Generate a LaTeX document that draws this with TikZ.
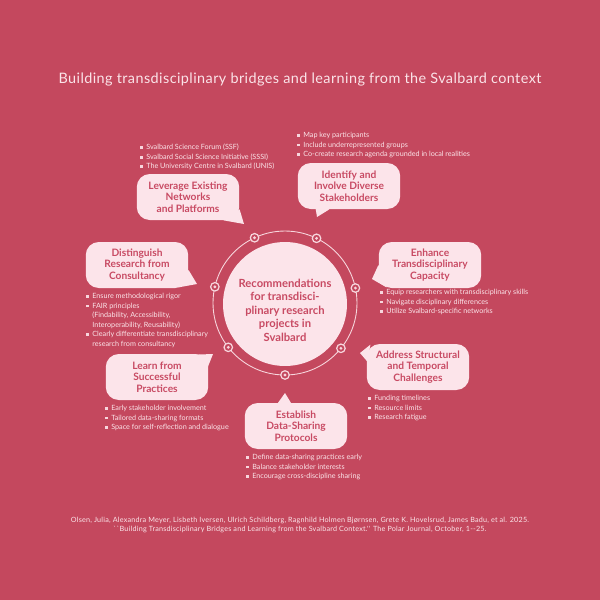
\documentclass[tikz,border=0pt]{standalone}
\usepackage{fontspec}
\setmainfont{Lato}
\newfontfamily\titlefont[LetterSpace=3]{Lato}
\usetikzlibrary{calc}
\definecolor{bg}{HTML}{C4485E}
\definecolor{bubblefill}{HTML}{FCE4EA}
\definecolor{bubbletext}{HTML}{C84A63}
\definecolor{itemtext}{HTML}{FBE4E9}
\definecolor{ringpink}{HTML}{F7D6DD}
\newcommand{\bu}{\textcolor{ringpink}{\rule[0.2ex]{0.75ex}{0.75ex}}\hspace{0.9ex}}
\newcommand{\bi}{\hphantom{\bu}}

\begin{document}
\begin{tikzpicture}[x=0.02cm,y=-0.02cm,
  bubble/.style={fill=bubblefill,rounded corners=0.26cm,minimum width=2.05cm,minimum height=0.92cm,
    align=center,text=bubbletext,inner sep=0,font=\fontsize{5.8}{6.6}\selectfont\bfseries},
  items/.style={anchor=north west,align=left,text=itemtext,inner sep=0,font=\fontsize{4.1}{5.4}\selectfont},
  ringdot/.style={circle,draw=ringpink,line width=0.7pt,fill=bg,minimum size=0.17cm,inner sep=0}]
  \fill[bg] (0,0) rectangle (600,600);
  \node[text=itemtext,font=\titlefont\fontsize{8.2}{9}\selectfont] (title) at (300,80)
    {Building transdisciplinary bridges and learning from the Svalbard context};

  \node[circle,draw=ringpink,line width=0.5pt,minimum size=2.88cm,outer sep=0] (ring) at (285,303) {};
  \node[circle,fill=bubblefill,minimum size=2.48cm] (hub) at (285,304) {};
  \node[align=center,text=bubbletext,font=\fontsize{6.4}{7.7}\selectfont\bfseries] (hubtext) at (285,310)
    {Recommendations\\for transdisci-\\plinary research\\projects in\\Svalbard};
  \foreach \a [count=\i] in {270,321.43,12.86,64.29,115.71,167.14,218.57}{
    \node[ringdot] (d\i) at (ring.\a) {};
    \fill[ringpink] (d\i) circle[radius=1.6];
  }

  \node[bubble] (lev) at (188,197) {Leverage Existing\\Networks\\and Platforms};
  \fill[bubblefill] ($(lev.south east)+(-16,0)$) -- (244,224) -- ($(lev.south east)+(0,-11)$) -- cycle;
  \node[items] (levlist) at (140,144) {\bu Svalbard Science Forum (SSF)\\ \bu Svalbard Social Science Initiative (SSSI)\\ \bu The University Centre in Svalbard (UNIS)};

  \node[bubble] (idf) at (349,186) {Identify and\\Involve Diverse\\Stakeholders};
  \fill[bubblefill] ($(idf.south west)+(18,-2)$) -- (317,217) -- ($(idf.south west)+(32,0)$) -- cycle;
  \node[items] (idflist) at (297,132) {\bu Map key participants\\ \bu Include underrepresented groups\\ \bu Co-create research agenda grounded in local realities};

  \node[bubble] (enh) at (430,265) {Enhance\\Transdisciplinary\\Capacity};
  \fill[bubblefill] ($(enh.west)+(0,0)$) -- (372,279) -- ($(enh.south west)+(8,-1)$) -- cycle;
  \node[items] (enhlist) at (380,289) {\bu Equip researchers with transdisciplinary skills\\ \bu Navigate disciplinary differences\\ \bu Utilize Svalbard-specific networks};

  \node[bubble] (dis) at (137,265) {Distinguish\\Research from\\Consultancy};
  \fill[bubblefill] ($(dis.east)+(0,5)$) -- (197,284) -- ($(dis.south east)+(-10,-1)$) -- cycle;
  \node[items] (dislist) at (86,293) {\bu Ensure methodological rigor\\ \bu FAIR principles\\ \bi (Findability, Accessibility,\\ \bi Interoperability, Reusability)\\ \bu Clearly differentiate transdisciplinary\\ \bi research from consultancy};

  \node[bubble] (lrn) at (157,377) {Learn from\\Successful\\Practices};
  \fill[bubblefill] ($(lrn.north east)+(-14,1)$) -- (213,354) -- ($(lrn.north east)+(-1,14)$) -- cycle;
  \node[items] (lrnlist) at (105,405) {\bu Early stakeholder involvement\\ \bu Tailored data-sharing formats\\ \bu Space for self-reflection and dialogue};

  \node[bubble] (adr) at (418,367) {Address Structural\\and Temporal\\Challenges};
  \fill[bubblefill] ($(adr.north west)+(4,1)$) -- (360,353) -- ($(adr.north west)+(1,18)$) -- cycle;
  \node[items] (adrlist) at (368,395) {\bu Funding timelines\\ \bu Resource limits\\ \bu Research fatigue};

  \node[bubble] (est) at (296,426) {Establish\\Data-Sharing\\Protocols};
  \fill[bubblefill] ($(est.north west)+(33,1)$) -- (285,393) -- ($(est.north west)+(47,1)$) -- cycle;
  \node[items] (estlist) at (246,454) {\bu Define data-sharing practices early\\ \bu Balance stakeholder interests\\ \bu Encourage cross-discipline sharing};

  \node[align=center,text=itemtext,font=\titlefont\fontsize{4.1}{5}\selectfont] (cite) at (300,525)
    {Olsen, Julia, Alexandra Meyer, Lisbeth Iversen, Ulrich Schildberg, Ragnhild Holmen Bjørnsen, Grete K. Hovelsrud, James Badu, et al. 2025.\\
     ``Building Transdisciplinary Bridges and Learning from the Svalbard Context.'' The Polar Journal, October, 1--25.};
\end{tikzpicture}
\end{document}
